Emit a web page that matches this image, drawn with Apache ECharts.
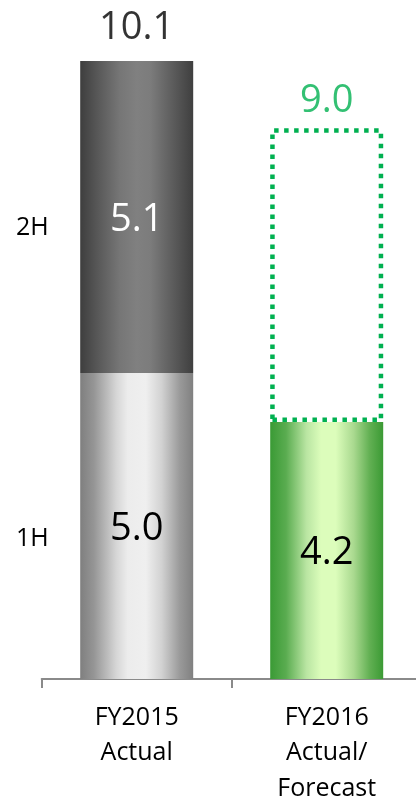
<!DOCTYPE html>
<html>
<head>
<meta charset="utf-8">
<script src="https://cdn.jsdelivr.net/npm/echarts@6/dist/echarts.min.js"></script>
<style>
html,body{margin:0;padding:0;background:#fff;}
#c{width:416px;height:800px;}
</style>
</head>
<body>
<div id="c"></div>
<script>
var categories = ['FY2015\nActual', 'FY2016\nActual/\nForecast'];
var firstHalf = [5.0, 4.2];
var secondHalf = [5.1, null];
var totals = [10.1, 9.0];
var halfNames = ['1H', '2H'];

var FONT = '"Open Sans", "Liberation Sans", sans-serif';

function grad(stops) {
  return new echarts.graphic.LinearGradient(0, 0, 1, 0, stops.map(function (s) {
    return { offset: s[0], color: s[1] };
  }));
}
var lightGray = grad([[0, '#7f7f7f'], [0.12, '#959595'], [0.32, '#d6d6d6'], [0.42, '#ececec'], [0.58, '#efefef'], [0.72, '#d2d2d2'], [0.88, '#9a9a9a'], [1, '#808080']]);
var darkGray = grad([[0, '#3e3e3e'], [0.15, '#575757'], [0.35, '#767676'], [0.5, '#808080'], [0.62, '#7c7c7c'], [0.82, '#5c5c5c'], [1, '#3f3f3f']]);
var green = grad([[0, '#3a9a35'], [0.14, '#5aac50'], [0.32, '#b9e5a2'], [0.45, '#dcfdbb'], [0.58, '#dcfdbb'], [0.74, '#a9d98f'], [0.88, '#62b053'], [1, '#3b9a34']]);

var h1Data = firstHalf.map(function (v, i) {
  return {
    value: v,
    itemStyle: { color: i === 0 ? lightGray : green },
    label: { color: '#000' }
  };
});
var h2Data = secondHalf.map(function (v, i) {
  if (v === null) {
    return {
      value: totals[i] - firstHalf[i],
      itemStyle: { color: 'rgba(0,0,0,0)', borderColor: '#00b050', borderWidth: 4.5, borderType: [4.5, 5.5] },
      label: { show: false }
    };
  }
  return { value: v, itemStyle: { color: darkGray }, label: { color: '#fff' } };
});
var totalData = totals.map(function (v, i) {
  return {
    value: [i, v],
    label: { color: i === 0 ? '#000' : '#00b050', distance: i === 0 ? 14 : 8 }
  };
});

var chart = echarts.init(document.getElementById('c'), null, { renderer: 'canvas' });
chart.setOption({
  animation: false,
  backgroundColor: '#fff',
  grid: { left: 41.7, width: 380, top: 6, height: 673, containLabel: false, outerBoundsMode: 'none' },
  xAxis: {
    type: 'category',
    data: categories,
    axisLine: { lineStyle: { color: '#8a8a8a', width: 2 } },
    axisTick: { show: true, length: 9, lineStyle: { color: '#8a8a8a', width: 2 } },
    axisLabel: { color: '#000', fontFamily: FONT, fontSize: 25, lineHeight: 35.5, margin: 21, interval: 0 }
  },
  yAxis: {
    type: 'value', min: 0, max: 11,
    show: false,
    splitLine: { show: false }
  },
  series: [
    {
      name: halfNames[0], type: 'bar', stack: 'a', barWidth: 113, data: h1Data,
      label: { show: true, position: 'inside', offset: [0, 3], fontFamily: FONT, fontSize: 38, formatter: function (p) { return p.value.toFixed(1); } }
    },
    {
      name: halfNames[1], type: 'bar', stack: 'a', barWidth: 113, data: h2Data,
      label: { show: true, position: 'inside', offset: [0, 3], fontFamily: FONT, fontSize: 38, formatter: function (p) { return p.value.toFixed(1); } }
    },
    {
      name: 'Total', type: 'scatter', symbolSize: 0, data: totalData, z: 5,
      label: { show: true, position: 'top', fontFamily: FONT, fontSize: 38, formatter: function (p) { return p.value[1].toFixed(1); } }
    }
  ]
});

// half labels ("1H" / "2H") placed beside the FY2015 bar segments
var y1 = chart.convertToPixel({ yAxisIndex: 0 }, firstHalf[0] / 2);
var y2 = chart.convertToPixel({ yAxisIndex: 0 }, firstHalf[0] + secondHalf[0] / 2);
chart.setOption({
  graphic: [
    { type: 'text', x: 16, y: y1 + 13, style: { text: halfNames[0], font: '25px ' + FONT, fill: '#000', verticalAlign: 'middle', textVerticalAlign: 'middle' } },
    { type: 'text', x: 16, y: y2 + 11, style: { text: halfNames[1], font: '25px ' + FONT, fill: '#000', verticalAlign: 'middle', textVerticalAlign: 'middle' } }
  ]
});
</script>
</body>
</html>
